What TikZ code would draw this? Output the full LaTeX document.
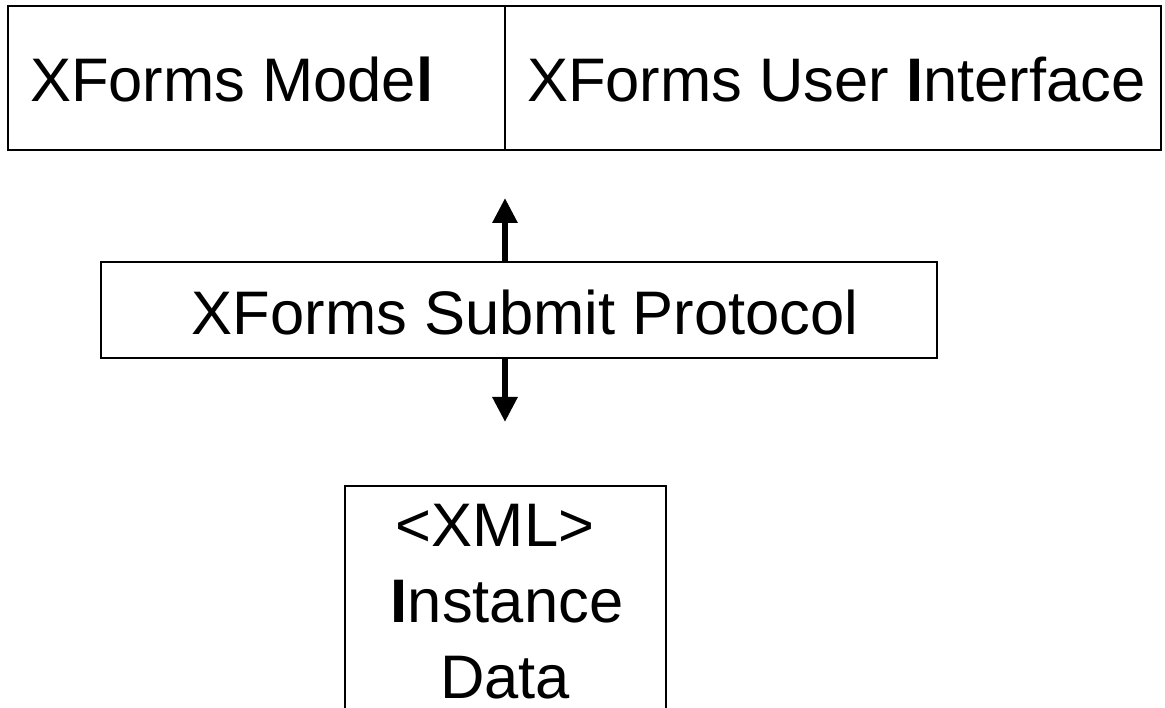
\documentclass[tikz,border=0pt]{standalone}
\usepackage{fontspec}
\setmainfont{Liberation Sans}
\usetikzlibrary{arrows.meta}
\tikzset{
  boxst/.style={draw=black, line width=2pt, inner sep=0pt, outer sep=0pt},
  txt/.style={inner sep=0pt, outer sep=0pt, font=\fontsize{61.5}{74}\selectfont},
  arr/.style={line width=6pt, -{Triangle[width=24pt,length=25pt]}}
}
\begin{document}
\begin{tikzpicture}[x=1pt,y=-1pt]
\useasboundingbox (0,0) rectangle (1165,708);
\clip (0,0) rectangle (1165,708);
\fill[white] (0,0) rectangle (1165,708);
% top box
\node[boxst, minimum width=1153pt, minimum height=144pt, anchor=north west] (top) at (8,6) {};
\coordinate (dv) at (505,0);
\draw[line width=2pt] (top.north -| dv) -- (top.south -| dv);
\node[txt, anchor=base west] (model) at (30,102) {XForms Mode\textbf{l}};
\node[txt, anchor=base west] (ui) at (527,102) {XForms User \textbf{I}nterface};
% middle box
\node[boxst, minimum width=836pt, minimum height=96pt, anchor=north west] (subbox) at (101,262) {};
\node[txt, anchor=base] (sub) at (525,335) {XForms Submit Protocol};
% arrows
\coordinate (uptip) at (505,198);
\coordinate (dntip) at (505,422);
\draw[arr] (uptip |- subbox.north) -- (uptip);
\draw[arr] (dntip |- subbox.south) -- (dntip);
% bottom box
\node[boxst, minimum width=321pt, minimum height=300pt, anchor=north west] (inst) at (345,486) {};
\node[txt, anchor=base] (xml) at (495,546) {<XML>};
\node[txt, anchor=base] (instance) at (507,622) {\textbf{I}nstance};
\node[txt, anchor=base] (data) at (505,698) {Data};
\end{tikzpicture}
\end{document}
